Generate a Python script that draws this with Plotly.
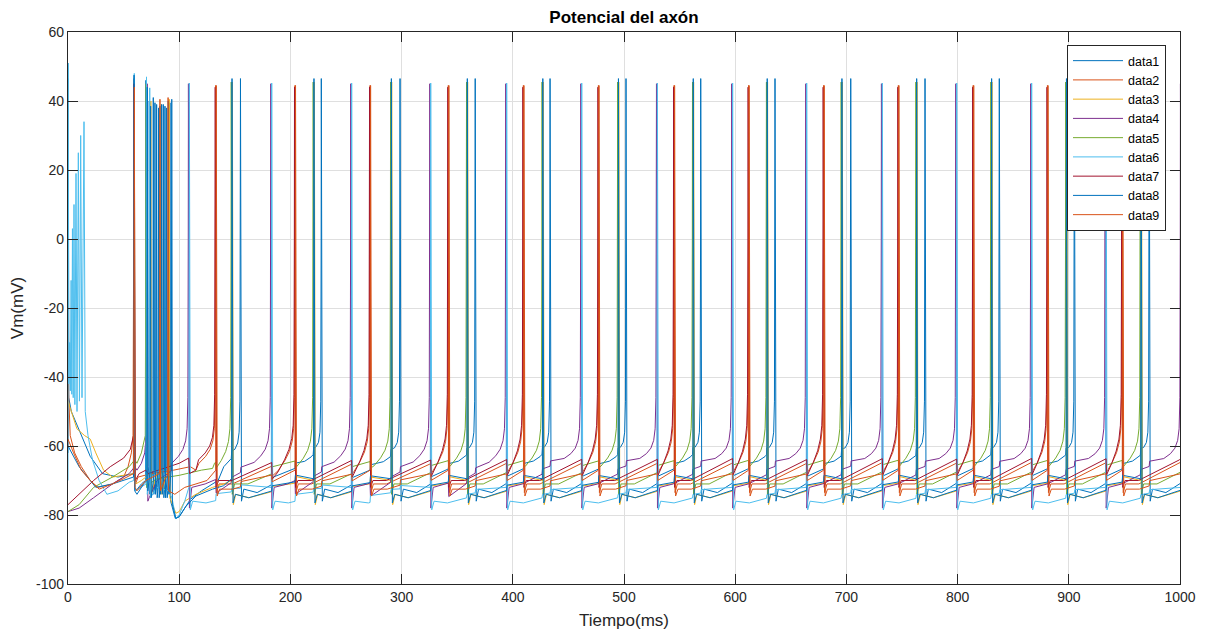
import plotly.graph_objects as go

# ---------------- data ----------------
x_ticks = [0, 100, 200, 300, 400, 500, 600, 700, 800, 900, 1000]
y_ticks = [-100, -80, -60, -40, -20, 0, 20, 40, 60]

# spike times (ms) of the four firing groups after the initial transient
spikes_L = [109.1, 183.2, 255.1, 326.2, 394.5, 462.0, 530.0, 597.7, 664.3, 732.3, 799.2, 866.6, 933.5, 1001.2]
spikes_A = [132.8, 204.1, 271.6, 342.0, 409.5, 477.0, 545.0, 612.0, 679.5, 746.7, 814.0, 880.8, 948.0, 1015.0]
spikes_B = [147.5, 221.2, 290.8, 359.1, 427.0, 495.0, 562.3, 628.8, 696.0, 763.2, 830.6, 897.9, 965.0, 1032.0]
spikes_C = [155.1, 227.8, 298.6, 366.2, 433.5, 501.8, 569.0, 635.8, 703.9, 770.7, 837.5, 905.0, 972.3, 1039.0]

series_names = ["data1", "data2", "data3", "data4", "data5", "data6", "data7", "data8", "data9"]
series_colors = ["#0072BD", "#D95319", "#EDB120", "#7E2F8E", "#77AC30", "#4DBEEE", "#A2142F", "#0072BD", "#D95319"]
series_group = ["C", "A", "B", "L", "B", "L", "A", "B", "A"]
series_shift = [0.0, 0.0, 0.3, -0.8, -0.7, 0.0, -0.4, 0.0, 0.5]     # ms offset to group time
series_peak = [46.5, 44.5, 45.5, 45.0, 45.5, 45.2, 44.0, 46.5, 44.5]
series_trough = [-76.0, -73.5, -77.0, -78.0, -74.0, -78.5, -72.0, -76.5, -74.5]   # sharp dip after spike
series_rec = [-72.5, -71.0, -74.0, -72.0, -71.0, -76.0, -70.0, -74.0, -72.5]      # ~3 ms after spike
series_sag = [-73.5, -71.0, -75.0, -71.0, -71.0, -76.5, -70.0, -75.0, -72.5]      # ~15 ms after spike
series_pre = [-59.0, -58.0, -70.0, -58.0, -58.0, -72.0, -57.0, -69.5, -67.0]      # just before upstroke
series_ramp = [True, True, False, True, True, False, True, False, False]
# jumps (mV) caused by the firing of the other groups
series_coupling = [
    {"L": 2.0, "A": 1.5, "B": 2.0},
    {"L": -3.0},
    {"L": 1.5, "A": 2.0},
    {"A": -4.0, "B": 1.5, "C": 1.5},
    {"L": 2.0, "A": -2.0},
    {"A": 2.0, "B": 1.0, "C": 1.0},
    {"L": -5.0},
    {"L": 1.5, "A": 2.0},
    {"L": -2.0, "C": 1.5},
]

# initial transient (0 - ~140 ms), vertices
early_t_data1 = [0, 0.25, 0.7, 3, 12, 20, 31, 45, 58.8, 59.3, 59.9, 61, 66, 69.7, 70.1, 70.6, 72.7, 73.1, 73.6,
                 76.3, 76.7, 77.2, 79.3, 79.7, 80.2, 82.3, 82.7, 83.2, 85.3, 85.7, 86.2, 88.3, 88.7, 89.2,
                 91.3, 91.7, 92.3, 96.5, 100, 105, 110, 120, 135]
early_v_data1 = [-62, 46.5, -46, -50, -57, -63, -68, -69, -68, 46.5, -72, -73, -71, -70, 46, -72, -66, 40, -74,
                 -67, 41, -74, -67, 39, -75, -67, 38.5, -74, -67, 39, -75, -67, 38, -75,
                 -68, 39.5, -76, -81, -80.5, -78, -75.5, -73, -70]
early_t_data2 = [0, 0.2, 0.6, 2, 6, 12, 20, 27, 40, 50, 54, 57, 58.5, 59.5, 59.9, 60.7, 63, 75, 95, 110, 115]
early_v_data2 = [-60, 45, -45, -57, -62, -66, -70, -72, -71, -69, -66, -62, -57, 46, 0, -71, -69, -68, -67, -66, -67]
early_t_data3 = [0, 3, 8, 15, 20, 25, 32, 40, 50, 59.5, 61, 66, 74.1, 74.5, 75, 80, 83.6, 84, 84.5, 88,
                 90.6, 91, 91.6, 97, 100, 105, 115, 130, 140]
early_v_data3 = [-47, -50, -55, -57, -58, -62, -67, -69, -68.5, -68, -71, -70, -68, 40, -74, -68, -68, 39, -74, -68,
                 -68, 40.5, -75, -79.5, -79, -76, -74, -72, -71]
early_t_data4 = [0, 10, 23, 40, 55, 60, 62, 66, 69, 70.8, 71.2, 71.8, 73, 80, 90, 93]
early_v_data4 = [-79, -78, -75, -71, -68, -66, -67, -65, -62, -55, 45, -76, -75, -70, -68, -67]
early_t_data5 = [0, 10, 23, 40, 55, 60, 62, 66, 69.5, 70.3, 70.8, 73, 80, 100, 120, 130]
early_v_data5 = [-79, -77, -72, -69, -66, -64, -65, -62, -57, 45, -72, -71, -69.5, -68.5, -67, -66.5]
early_t_data6 = [0, 0.25, 0.7, 1.5, 2.1, 2.8, 3.4, 4.0, 4.7, 5.4, 6.2, 7.2, 8.1, 9.3, 10.3, 11.4, 12.6, 14.4,
                 15.5, 18, 22, 28, 35, 45, 55, 59.1, 59.6, 60.3, 65, 70.2, 70.6, 71.3, 73.1, 73.5, 74.2,
                 80, 90, 93.5, 97, 100, 105]
early_v_data6 = [-70, 51, -42, -30, -44, -12, -45, 3, -46, 10, -48, 19, -50, 25, -47, 30, -46, 34,
                 -50, -57, -64, -70, -74, -73, -70.5, -70, 48, -73, -72, -71, 47, -74, -70, 43.8, -75,
                 -72, -73, -75, -81, -80, -76]
early_t_data7 = [0, 10, 23, 38, 50, 56, 58.9, 59.2, 59.7, 60.5, 64, 70, 72, 85, 100, 108.5, 109.3, 115]
early_v_data7 = [-77, -74, -70, -66, -63.5, -61, -57, 45, 0, -70, -68, -67, -68, -66.5, -65, -63.5, -68, -67]
early_t_data8 = [0, 10, 25, 40, 58.9, 59.4, 60, 62, 68, 70.9, 71.3, 71.8, 73.9, 74.3, 74.8, 77.8, 78.2, 78.7,
                 81.1, 81.5, 82, 83.8, 84.2, 84.7, 86.8, 87.2, 87.7, 89.8, 90.2, 90.7, 92.9, 93.3, 93.9,
                 97, 100, 106, 115, 130, 140]
early_v_data8 = [-60, -66, -72, -71, -69, 47.5, -73, -74, -71, -70, 44, -73, -67, 38.5, -75, -67, 39.5, -74,
                 -67, 38, -75, -67, 39, -74, -67, 38.5, -75, -67, 40, -74, -67, 40.5, -77,
                 -81, -80.5, -77.5, -74.5, -72.5, -71.5]
early_t_data9 = [0, 5, 12, 20, 28, 40, 50, 58.9, 59.7, 60.3, 62, 70, 82.3, 82.7, 83.2, 88, 89.6, 90.0, 90.5,
                 96, 105, 115, 125]
early_v_data9 = [-58, -62, -67, -70, -72.5, -71, -69.5, -68, 44, -72, -73, -70, -68, 40.5, -73, -69, -68.5, 41, -73,
                 -74, -72, -71, -70]

early_t = [early_t_data1, early_t_data2, early_t_data3, early_t_data4, early_t_data5,
           early_t_data6, early_t_data7, early_t_data8, early_t_data9]
early_v = [early_v_data1, early_v_data2, early_v_data3, early_v_data4, early_v_data5,
           early_v_data6, early_v_data7, early_v_data8, early_v_data9]
groups = {"L": spikes_L, "A": spikes_A, "B": spikes_B, "C": spikes_C}
group_shift = {"L": 0.0, "A": 0.0, "B": -0.7, "C": 0.0}


def lin(pts, x):
    for (a0, b0), (a1, b1) in zip(pts[:-1], pts[1:]):
        if a0 <= x <= a1:
            return b0 + (b1 - b0) * (x - a0) / (a1 - a0) if a1 > a0 else b1
    return pts[-1][1]


def build_trace(k):
    ts = list(early_t[k])
    vs = list(early_v[k])
    spikes = [s + series_shift[k] for s in groups[series_group[k]]]
    pk, tr, rec, sag, pre, ramp = (series_peak[k], series_trough[k], series_rec[k],
                                   series_sag[k], series_pre[k], series_ramp[k])
    events = []
    for g, d in series_coupling[k].items():
        events += [(s + group_shift[g], d) for s in groups[g]]
    events.sort()

    def add(a, b):
        if a > ts[-1]:
            ts.append(a)
            vs.append(b)

    prev = None
    for t in spikes:
        # vertices of the slow approach to the spike
        start = (ts[-1], vs[-1]) if prev is None else (prev + 15, sag)
        if ramp:
            approach = [(t - 15, pre - 7), (t - 9, pre - 5), (t - 5, pre - 3), (t - 2.5, pre - 0.5),
                        (t - 1.2, pre + 3)]
        else:
            approach = [(t - 0.4, pre)]
        approach = [p for p in approach if p[0] > start[0]]
        base = [start] + approach
        t_end = base[-1][0]
        # jumps from the other groups, fading out by the upstroke
        evs = [(te, d) for te, d in events if start[0] + 1 < te < t_end - 0.6]
        times = sorted(set([p[0] for p in base[1:]] + [te for te, _ in evs] + [te + 0.4 for te, _ in evs]))
        for x in times:
            v = lin(base, x)
            for te, d in evs:
                if x >= te + 0.4:
                    v += d * (t_end - x) / (t_end - te)
            add(x, v)
        # spike itself
        if ramp:
            add(t - 0.5, pre + 12)
        for (a, b) in [(t - 0.15, 0), (t, pk), (t + 0.35, 0), (t + 0.9, tr), (t + 3, rec), (t + 15, sag)]:
            add(a, b)
        prev = t
    return ts, vs


fig = go.Figure()
for k in range(9):
    tt, vv = build_trace(k)
    fig.add_trace(go.Scatter(x=tt, y=vv, mode="lines", name=series_names[k],
                             line=dict(color=series_colors[k], width=1)))

axis_common = dict(showgrid=True, gridcolor="#DFDFDF", gridwidth=1, showline=True,
                   linecolor="#262626", linewidth=1.3, mirror="ticks", ticks="inside",
                   ticklen=10, tickwidth=1.3, tickcolor="#262626", zeroline=False,
                   automargin=False, tickfont=dict(size=14, color="#262626"))

# the page adds an 8 px body margin, so the figure is 8 px smaller on each axis
fig.update_layout(
    width=1203, height=624,
    margin=dict(l=60, r=31, t=24, b=48),
    paper_bgcolor="white", plot_bgcolor="white",
    font=dict(family="Liberation Sans, Arial, sans-serif", size=14, color="#262626"),
    title=dict(text="<b>Potencial del axón</b>", x=0.5, xref="paper", y=1 - 9 / 624, yref="container",
               xanchor="center", yanchor="middle", font=dict(size=17, color="#000000")),
    xaxis=dict(range=[0, 1000], tickvals=x_ticks, ticktext=[str(v) for v in x_ticks],
               title=dict(text="Tiempo(ms)", font=dict(size=17), standoff=10), **axis_common),
    yaxis=dict(range=[-100, 60], tickvals=y_ticks, ticktext=[str(v) for v in y_ticks],
               title=dict(text="Vm(mV)", font=dict(size=17), standoff=10), **axis_common),
    legend=dict(x=(1166 - 68) / 1112, y=0.9764, xanchor="right", yanchor="top", bgcolor="white",
                bordercolor="#262626", borderwidth=1, font=dict(size=12.5, color="#000000"),
                tracegroupgap=0, itemwidth=50, entrywidth=88, entrywidthmode="pixels"),
    showlegend=True,
)

fig.write_html("out.html")
